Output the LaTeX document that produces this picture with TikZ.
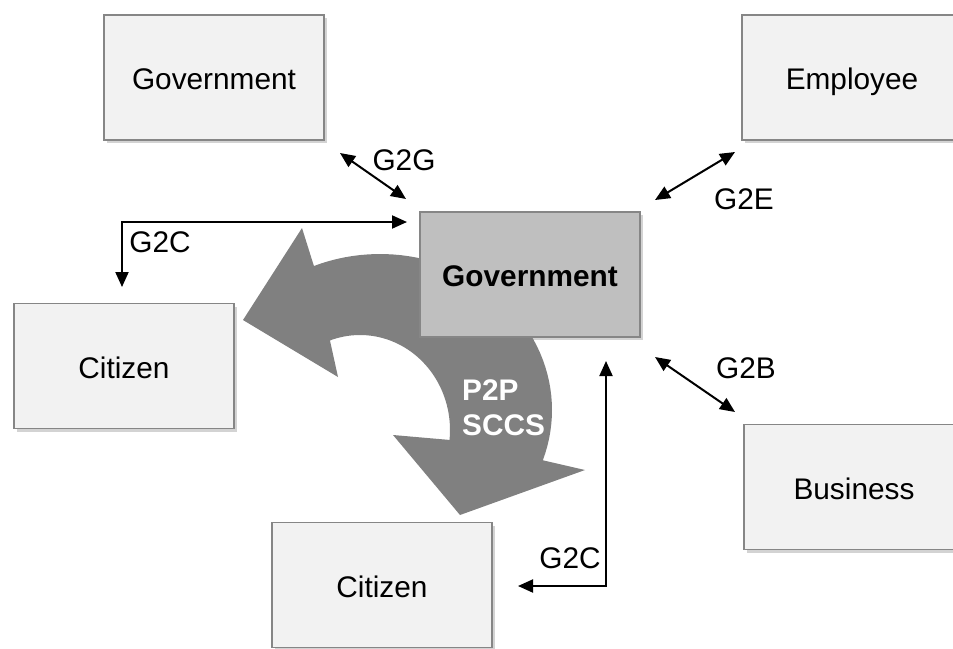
\documentclass[tikz,border=0pt]{standalone}
\usepackage{fontspec}
\setmainfont{Liberation Sans}
\usetikzlibrary{arrows.meta,shadows}
\definecolor{boxfill}{HTML}{F2F2F2}
\definecolor{boxline}{HTML}{868686}
\definecolor{govfill}{HTML}{BFBFBF}
\definecolor{arrowgray}{HTML}{808080}
\begin{document}
\begin{tikzpicture}[x=1pt,y=-1pt,
  every node/.style={font=\fontsize{29.8}{35}\selectfont, text=black},
  box/.style={draw=boxline, line width=1.5pt, fill=boxfill, minimum width=220pt,
    minimum height=125pt, inner sep=0pt, text height=30pt, text depth=5.4pt,
    drop shadow={shadow xshift=2.5pt,shadow yshift=-3pt,opacity=0.35}},
  govbox/.style={box, fill=govfill, font=\fontsize{29.8}{35}\selectfont\bfseries},
  lbl/.style={inner sep=0pt},
  conn/.style={line width=2pt, draw=black,
    {Triangle[length=15pt,width=13pt]}-{Triangle[length=15pt,width=13pt]}},
  bigarrow/.style={fill=arrowgray, draw=none},
  p2ptext/.style={inner sep=0pt, anchor=base west, text=white,
    font=\fontsize{29.8}{35}\selectfont\bfseries}
]
\path[use as bounding box] (0,0) rectangle (953,648);
\clip (0,0) rectangle (953,648);

% big curved double arrow (P2P SCCS)
\fill[bigarrow] (243,320) -- (302,228)
  -- plot[domain=-112.6:18.8, samples=50] ({380+172*cos(\x)},{410+156*sin(\x)})
  -- (585,470) -- (460,515) -- (393,435)
  -- plot[domain=6:-109.5, samples=50] ({360+90*cos(\x)},{430+95*sin(\x)})
  -- (338,377) -- cycle;
\node[p2ptext] (p2p) at (462,400) {P2P};
\node[p2ptext] (sccs) at (462,435) {SCCS};

% boxes
\node[box] (gov1) at (214,77.5) {Government};
\node[box] (emp) at (852,77.5) {Employee};
\node[govbox] (govc) at (530,274.5) {Government};
\node[box] (cit1) at (124,366) {Citizen};
\node[box] (bus) at (854,487) {Business};
\node[box] (cit2) at (382,585) {Citizen};

% connector end points
\coordinate (g2ga) at (340,153);
\coordinate (g2gb) at (406,199);
\coordinate (g2ea) at (655,200);
\coordinate (g2eb) at (735,152);
\coordinate (g2ba) at (655,357);
\coordinate (g2bb) at (735,412);
\coordinate (g2ca) at (407,222);
\coordinate (g2cb) at (122,287);
\coordinate (g2cc) at (606,361);
\coordinate (g2cd) at (518,586);

% connectors
\draw[conn] (g2ga) -- (g2gb);
\draw[conn] (g2ea) -- (g2eb);
\draw[conn] (g2ba) -- (g2bb);
\draw[conn] (g2ca) -| (g2cb);
\draw[conn] (g2cc) |- (g2cd);

% labels
\node[lbl] (lg2g) at (404,160) {G2G};
\node[lbl] (lg2e) at (744,199) {G2E};
\node[lbl] (lg2b) at (746,368) {G2B};
\node[lbl] (lg2c1) at (160,242) {G2C};
\node[lbl] (lg2c2) at (570,558) {G2C};
\end{tikzpicture}
\end{document}
